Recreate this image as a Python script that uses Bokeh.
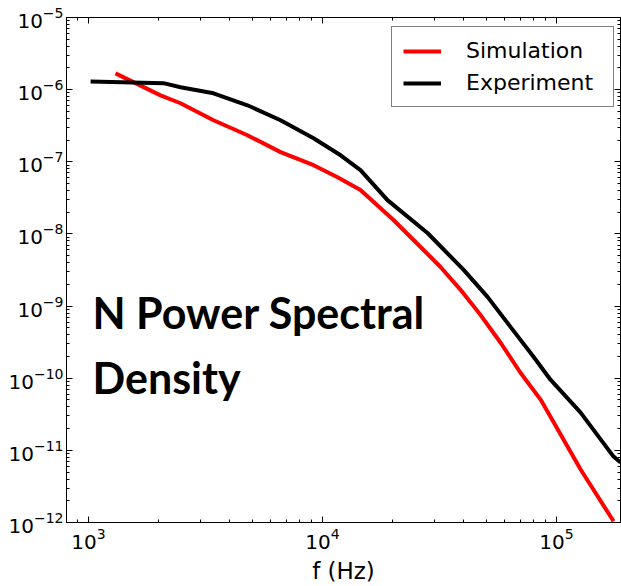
from bokeh.plotting import figure
from bokeh.models import LogAxis, FixedTicker, Label, Range1d, CustomJSTickFormatter
from bokeh.embed import file_html
from bokeh.resources import INLINE

# Experiment (black)
exp_f = [1020, 2090, 2472, 3420, 4777, 6617, 9158, 11950, 14530, 18950,
         28100, 40100, 50720, 63570, 79750, 94250, 126800, 175300, 187800]
exp_psd = [1.30e-6, 1.23e-6, 1.08e-6, 8.89e-7, 6.07e-7, 3.76e-7, 2.12e-7,
           1.23e-7, 7.66e-8, 2.94e-8, 1.03e-8, 3.17e-9, 1.34e-9, 5.15e-10,
           1.98e-10, 9.53e-11, 3.33e-11, 8.20e-12, 6.78e-12]

# Simulation (red)
sim_f = [1304, 2031, 2472, 3420, 4777, 6617, 9158, 11590, 14530, 20100,
         26240, 31940, 38900, 47310, 57680, 70150, 85500, 94250, 126800, 175300]
sim_psd = [1.68e-6, 8.34e-7, 6.48e-7, 3.76e-7, 2.33e-7, 1.36e-7, 8.97e-8,
           6.12e-8, 4.05e-8, 1.56e-8, 6.59e-9, 3.48e-9, 1.68e-9, 7.55e-10,
           3.10e-10, 1.19e-10, 5.05e-11, 2.93e-11, 5.42e-12, 1.04e-12]

x_major = [1e3, 1e4, 1e5]
y_major = [1e-12, 1e-11, 1e-10, 1e-9, 1e-8, 1e-7, 1e-6, 1e-5]

x_minor = [m * 10 ** e for e in range(2, 6) for m in range(2, 10)]
y_minor = [m * 10.0 ** e for e in range(-12, -5) for m in range(2, 10)]

p = figure(width=621, height=586, x_axis_type="log", y_axis_type="log",
           x_range=Range1d(805, 187700), y_range=Range1d(1e-12, 1e-5),
           output_backend="svg", toolbar_location=None,
           min_border_left=66, min_border_right=1, min_border_top=17,
           min_border_bottom=63)

p.grid.visible = False
p.outline_line_color = "black"
p.outline_line_width = 1
p.background_fill_color = "white"
p.border_fill_color = "white"

p.line(sim_f, sim_psd, line_color="#ff0000", line_width=4, legend_label="Simulation")
p.line(exp_f, exp_psd, line_color="black", line_width=4, legend_label="Experiment")

xt = FixedTicker(ticks=x_major, minor_ticks=x_minor)
yt = FixedTicker(ticks=y_major, minor_ticks=y_minor)

def style(ax, size="20px"):
    ax.axis_line_color = "black"
    ax.major_tick_in = 6
    ax.major_tick_out = 0
    ax.minor_tick_in = 3
    ax.minor_tick_out = 0
    ax.major_tick_line_color = "black"
    ax.minor_tick_line_color = "black"
    ax.major_label_text_font = "DejaVu Sans"
    ax.major_label_text_font_size = size
    ax.major_label_text_color = "black"

p.xaxis.ticker = xt
p.yaxis.ticker = yt
style(p.xaxis[0])
style(p.yaxis[0])
p.yaxis.major_label_standoff = 3
p.xaxis.major_label_standoff = 5
p.xaxis.axis_label = "f (Hz)"
p.xaxis.axis_label_text_font = "DejaVu Sans"
p.xaxis.axis_label_text_font_size = "23px"
p.xaxis.axis_label_text_font_style = "normal"
p.xaxis.axis_label_text_color = "black"
p.xaxis.axis_label_standoff = 6

top = LogAxis(ticker=FixedTicker(ticks=x_major, minor_ticks=x_minor),
              formatter=CustomJSTickFormatter(code="return ''"))
style(top, "1px")
top.major_label_standoff = 0
p.add_layout(top, "above")
right = LogAxis(ticker=FixedTicker(ticks=y_major, minor_ticks=y_minor),
                formatter=CustomJSTickFormatter(code="return ''"))
style(right, "1px")
right.major_label_standoff = 0
p.add_layout(right, "right")

lg = p.legend[0]
lg.location = (325, 415)
lg.padding = 11
lg.spacing = 7
lg.glyph_width = 38
lg.glyph_height = 22
lg.label_height = 22
lg.label_width = 136
lg.label_standoff = 25
lg.label_text_font = "DejaVu Sans"
lg.label_text_font_size = "22px"
lg.label_text_color = "black"
lg.border_line_color = "black"
lg.border_line_width = 1
lg.background_fill_color = "white"
lg.background_fill_alpha = 1

t1 = Label(x=1040, y=8.05e-10, text="N Power Spectral", text_font="Lato",
           text_font_style="bold", text_font_size="43px", text_color="black",
           text_baseline="alphabetic")
t2 = Label(x=1040, y=1.02e-10, text="Density", text_font="Lato",
           text_font_style="bold", text_font_size="43px", text_color="black",
           text_baseline="alphabetic")
p.add_layout(t1)
p.add_layout(t2)

open("out.html", "w").write(file_html(p, INLINE))
